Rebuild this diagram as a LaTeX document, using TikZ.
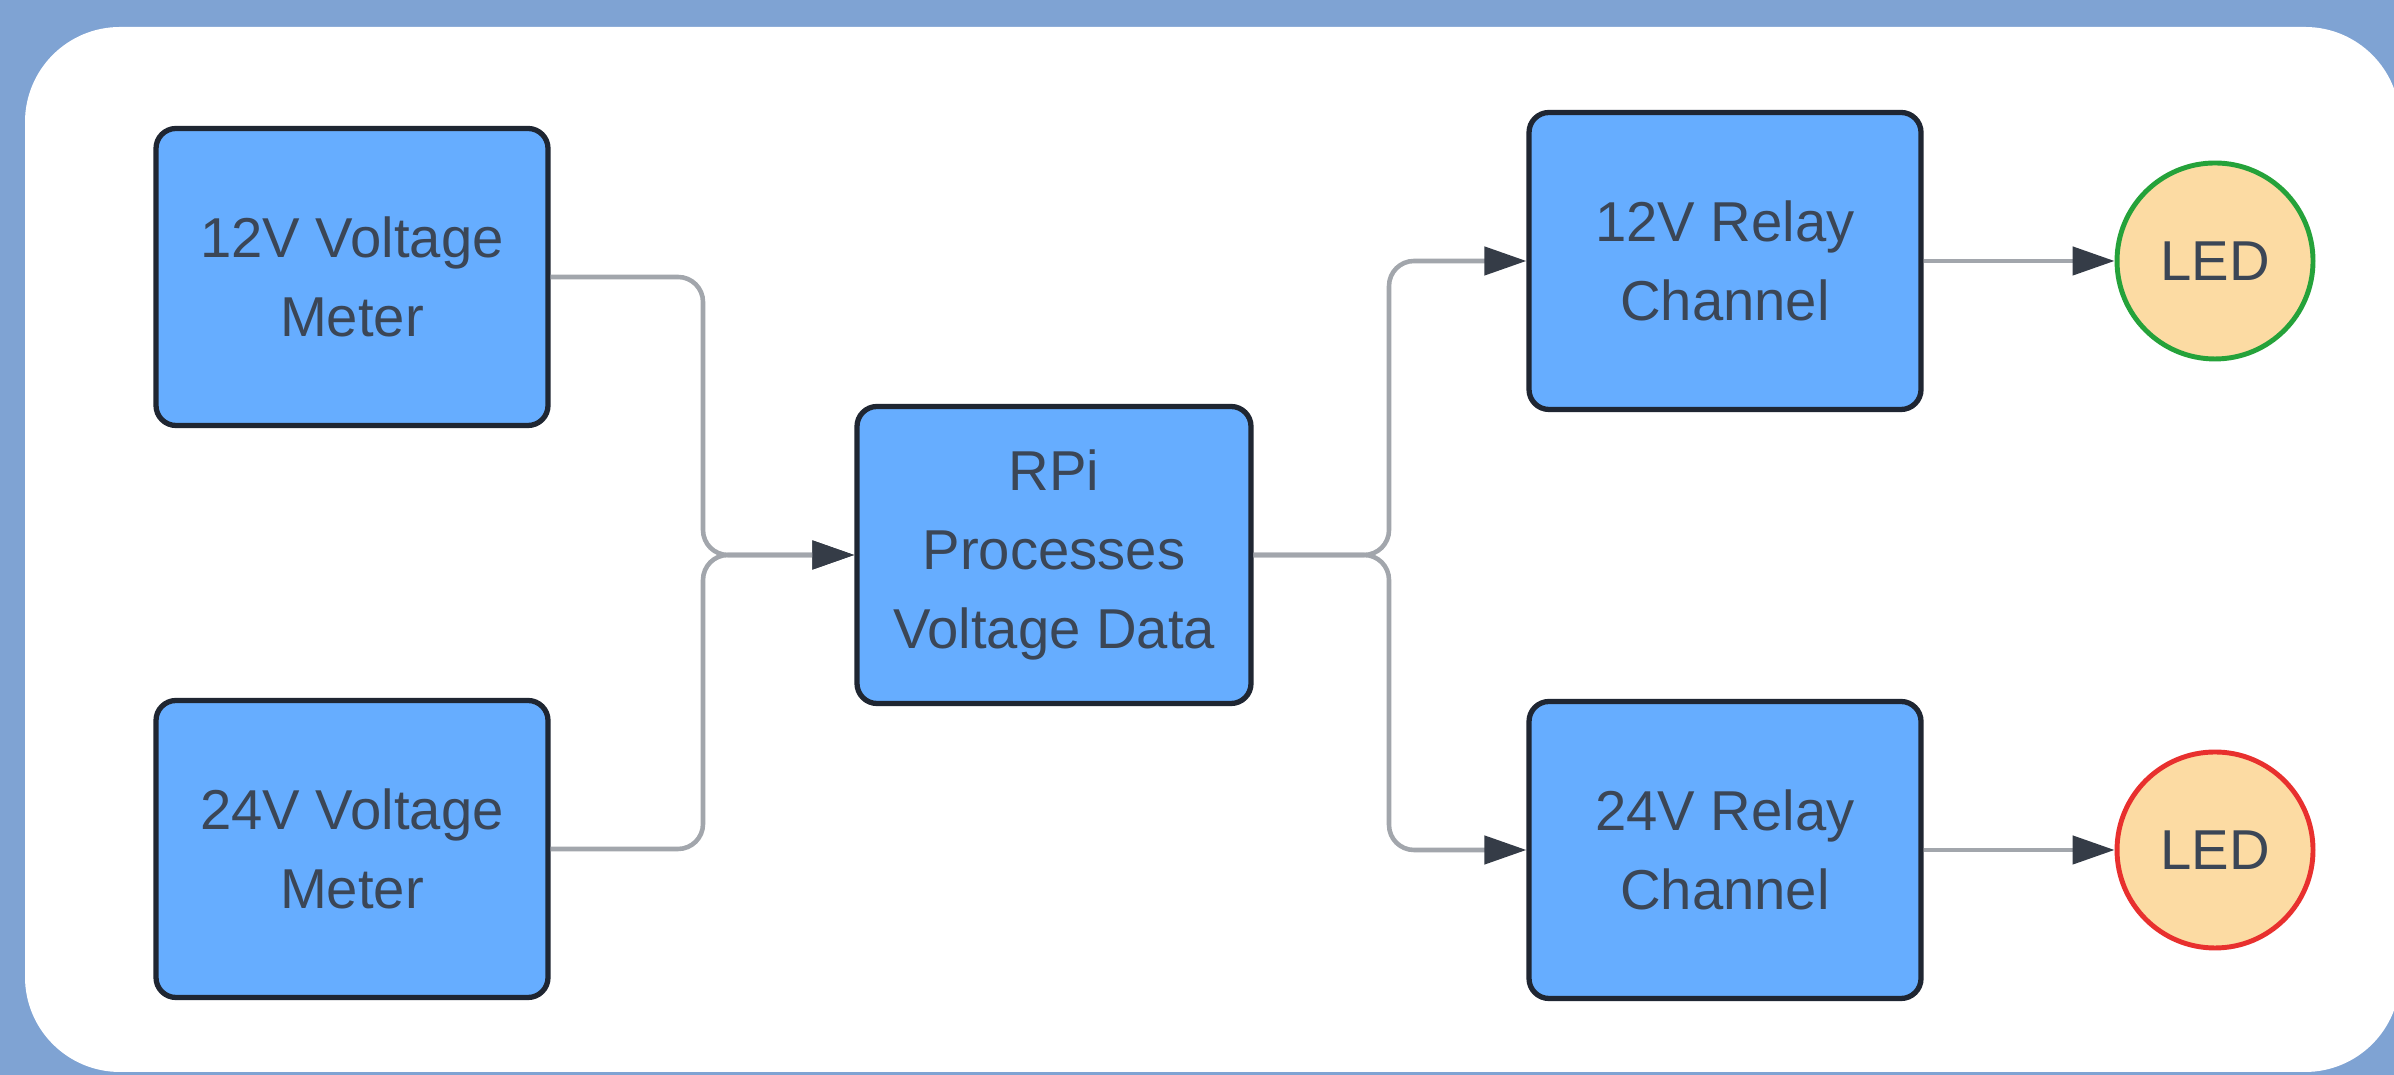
\documentclass[tikz,border=0pt]{standalone}
\usepackage{fontspec}
\setmainfont{Liberation Sans}
\usetikzlibrary{positioning,arrows.meta,calc}
\definecolor{frameblue}{HTML}{7FA3D3}
\definecolor{boxblue}{HTML}{66ADFF}
\definecolor{boxedge}{HTML}{1F2632}
\definecolor{textgray}{HTML}{3B4656}
\definecolor{linkgray}{HTML}{A2A6AC}
\definecolor{tipdark}{HTML}{353C47}
\definecolor{ledfill}{HTML}{FCDBA3}
\definecolor{ledgreen}{HTML}{25A23A}
\definecolor{ledred}{HTML}{E8302E}
\tikzset{
  link/.style={line width=1.3pt, linkgray, rounded corners=0.25cm,
    -{Triangle[length=4.2mm, width=2.8mm, color=tipdark, fill=tipdark]}},
  stagebox/.style={draw=boxedge, line width=1.5pt, rounded corners=0.2cm, fill=boxblue,
    minimum width=3.92cm, minimum height=2.97cm, align=center, text=textgray,
    font=\fontsize{16}{22.5}\selectfont},
  ledcirc/.style={circle, line width=1.4pt, fill=ledfill, minimum size=1.96cm,
    inner sep=0pt, text=textgray, font=\fontsize{16}{22.5}\selectfont}
}
\begin{document}
\begin{tikzpicture}
  \useasboundingbox (0,0) rectangle (23.94,10.75);
  \fill[frameblue] (0,0) rectangle (23.94,10.75);
  \fill[white, rounded corners=0.95cm] (0.25,0.03) rectangle (24.0,10.48);

  \node[stagebox] (m12) at (3.52,7.98) {12V Voltage\\Meter};
  \node[stagebox] (m24) at (3.52,2.26) {24V Voltage\\Meter};
  \node[stagebox, minimum width=3.94cm] (rpi) at (10.54,5.20) {RPi\\Processes\\Voltage Data};
  \node[stagebox] (r12) at (17.25,8.14) {12V Relay\\Channel};
  \node[stagebox] (r24) at (17.25,2.25) {24V Relay\\Channel};
  \node[ledcirc, draw=ledgreen] (led12) at (22.15,8.14) {LED};
  \node[ledcirc, draw=ledred] (led24) at (22.15,2.25) {LED};

  \coordinate (jin) at (7.03,5.20);
  \coordinate (jout) at (13.89,5.20);

  \draw[link] (m12.east) -| (jin) -- (rpi.west);
  \draw[link] (m24.east) -| (jin) -- (rpi.west);
  \draw[link] (rpi.east) -- (jout) |- (r12.west);
  \draw[link] (rpi.east) -- (jout) |- (r24.west);
  \draw[link] (r12) -- (led12);
  \draw[link] (r24) -- (led24);
\end{tikzpicture}
\end{document}
